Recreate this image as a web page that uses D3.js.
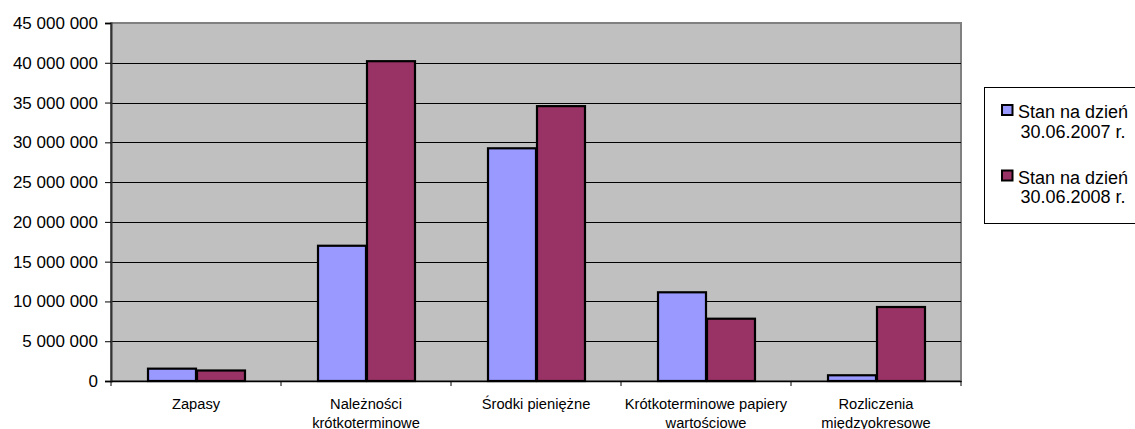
<!DOCTYPE html>
<html>
<head>
<meta charset="utf-8">
<script src="https://cdn.jsdelivr.net/npm/d3@7"></script>
<style>
  html, body { margin: 0; padding: 0; background: #fff; }
  svg { display: block; }
  text { font-family: "Liberation Sans", Arial, sans-serif; fill: #000; }
</style>
</head>
<body>
<svg id="chart" width="1135" height="429"></svg>
<script>
const categories = [
  "Zapasy",
  "Należności\nkrótkoterminowe",
  "Środki pieniężne",
  "Krótkoterminowe papiery\nwartościowe",
  "Rozliczenia\nmiędzyokresowe"
];
const seriesNames = ["Stan na dzień\n30.06.2007 r.", "Stan na dzień\n30.06.2008 r."];
const values2007 = [1550000, 17000000, 29250000, 11150000, 720000];
const values2008 = [1320000, 40200000, 34550000, 7830000, 9300000];
const yTicks = [0, 5000000, 10000000, 15000000, 20000000, 25000000, 30000000, 35000000, 40000000, 45000000];
const colors = ["#9999FF", "#993366"];

const seriesValues = [values2007, values2008];
const svg = d3.select("#chart");
const plot = { left: 111, right: 961, top: 23, bottom: 381 };

const x0 = d3.scaleBand().domain(categories).range([plot.left, plot.right]).paddingInner(0).paddingOuter(0);
const x1 = d3.scaleBand().domain(seriesNames).range([0, x0.bandwidth()]).paddingInner(0).paddingOuter(0.735);
const y = d3.scaleLinear().domain([0, 45000000]).range([plot.bottom, plot.top]);

const loc = d3.formatLocale({ decimal: ",", thousands: " ", grouping: [3], currency: ["", ""] });
const fmt = loc.format(",.0f");

// plot background
svg.append("rect")
  .attr("x", plot.left).attr("y", plot.top)
  .attr("width", plot.right - plot.left).attr("height", plot.bottom - plot.top)
  .attr("fill", "#C0C0C0").attr("stroke", "#808080").attr("stroke-width", 2);

// gridlines
svg.append("g").selectAll("line")
  .data(yTicks.filter(t => t > 0 && t < 45000000))
  .join("line")
  .attr("x1", plot.left).attr("x2", plot.right)
  .attr("y1", d => Math.round(y(d)) + 0.5).attr("y2", d => Math.round(y(d)) + 0.5)
  .attr("stroke", "#000").attr("stroke-width", 1);

// bars
const groups = svg.append("g").selectAll("g")
  .data(categories)
  .join("g")
  .attr("transform", d => `translate(${x0(d)},0)`);

groups.selectAll("rect")
  .data((d, i) => seriesNames.map((s, j) => ({ s, v: seriesValues[j][i], j })))
  .join("rect")
  .attr("x", d => x1(d.s) + 1)
  .attr("width", x1.bandwidth() - 1)
  .attr("y", d => y(d.v))
  .attr("height", d => y(0) - y(d.v))
  .attr("fill", d => colors[d.j])
  .attr("stroke", "#000").attr("stroke-width", 2.2);

// y axis
const yAxis = d3.axisLeft(y).tickValues(yTicks).tickFormat(fmt).tickSize(6).tickPadding(7);
const gy = svg.append("g").attr("transform", `translate(${plot.left},0)`).call(yAxis);
gy.select(".domain").attr("stroke", "#333").attr("stroke-width", 2);
gy.selectAll(".tick line").attr("stroke", "#000");
gy.selectAll(".tick text").attr("font-size", "17px").attr("font-family", "Liberation Sans, Arial, sans-serif").attr("fill", "#000");

// x axis line + ticks
const xAxis = d3.axisBottom(x0).tickSize(0).tickFormat("");
const gx = svg.append("g").attr("transform", `translate(0,${plot.bottom})`).call(xAxis);
gx.select(".domain").attr("stroke", "#000").attr("stroke-width", 1.5);
const boundaries = categories.map(c => x0(c)).concat([x0(categories[categories.length - 1]) + x0.bandwidth()]);
gx.selectAll("line.bound").data(boundaries).join("line").attr("class", "bound")
  .attr("x1", d => d).attr("x2", d => d).attr("y1", 0).attr("y2", 5)
  .attr("stroke", "#000").attr("stroke-width", 1);

// x labels
const labels = svg.append("g").selectAll("text")
  .data(categories)
  .join("text")
  .attr("x", d => x0(d) + x0.bandwidth() / 2)
  .attr("y", 409)
  .attr("text-anchor", "middle")
  .attr("font-size", "14.7px");
labels.selectAll("tspan")
  .data(d => d.split("\n"))
  .join("tspan")
  .attr("x", function() { return d3.select(this.parentNode).attr("x"); })
  .attr("dy", (d, i) => i === 0 ? 0 : 18.6)
  .text(d => d);

// legend
const lg = svg.append("g");
lg.append("rect").attr("x", 984.5).attr("y", 87.5).attr("width", 160).attr("height", 136)
  .attr("fill", "#fff").attr("stroke", "#000").attr("stroke-width", 1);
const items = lg.selectAll("g.item").data(seriesNames).join("g").attr("class", "item")
  .attr("transform", (d, i) => `translate(0,${i * 65.5})`);
items.append("rect").attr("x", 1002).attr("y", 105).attr("width", 10.5).attr("height", 10)
  .attr("fill", (d, i) => colors[i]).attr("stroke", "#000").attr("stroke-width", 2);
items.append("text")
  .attr("x", 1073).attr("y", 118.3)
  .attr("text-anchor", "middle").attr("font-size", "18px")
  .selectAll("tspan").data(d => d.split("\n")).join("tspan")
  .attr("x", 1073).attr("dy", (d, i) => i === 0 ? 0 : 19.6)
  .text(d => d);
</script>
</body>
</html>
